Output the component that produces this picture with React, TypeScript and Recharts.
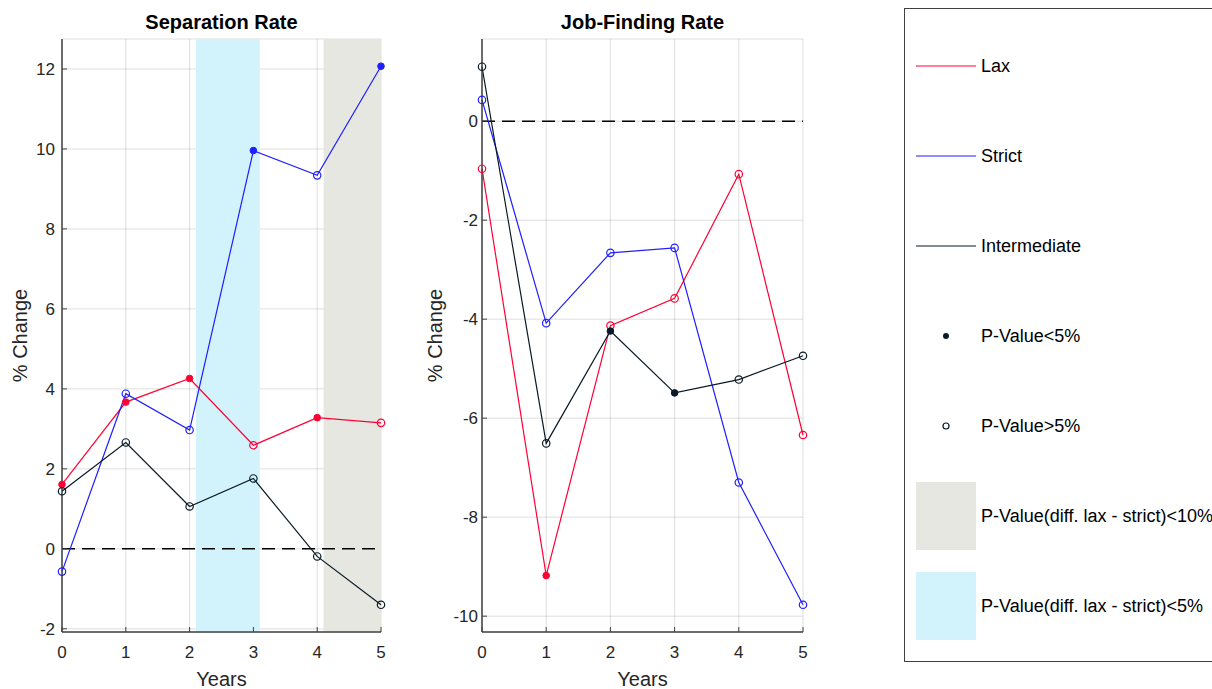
import {
  LineChart,
  Line,
  XAxis,
  YAxis,
  CartesianGrid,
  ReferenceLine,
  ReferenceArea,
  Label,
} from "recharts";

const years = [0, 1, 2, 3, 4, 5];

// separation rate, % change
const sepLax = [1.61, 3.67, 4.26, 2.59, 3.28, 3.15];
const sepStrict = [-0.57, 3.88, 2.97, 9.96, 9.34, 12.07];
const sepInter = [1.44, 2.66, 1.06, 1.76, -0.19, -1.4];
const sepLaxSig = [true, true, true, false, true, false];
const sepStrictSig = [false, false, false, true, false, true];
const sepInterSig = [false, false, false, false, false, false];
const sepTicks = [-2, 0, 2, 4, 6, 8, 10, 12];
const sepCyan = [[2.1, 3.1]];
const sepGray = [[4.1, 5]];

// job-finding rate, % change
const jobLax = [-0.96, -9.18, -4.13, -3.58, -1.07, -6.34];
const jobStrict = [0.43, -4.08, -2.66, -2.56, -7.3, -9.77];
const jobInter = [1.1, -6.51, -4.24, -5.49, -5.22, -4.74];
const jobLaxSig = [false, true, false, false, false, false];
const jobStrictSig = [false, false, false, false, false, false];
const jobInterSig = [false, false, true, true, false, false];
const jobTicks = [-10, -8, -6, -4, -2, 0];

const RED = "#ff0033";
const BLUE = "#1f1fff";
const DARK = "#0b1a26";
const CYAN = "#d2f3fb";
const GRAY = "#e6e7e1";
const FONT = "'Liberation Sans', Arial, sans-serif";

const makeDot = (color: string, sig: boolean[]) => (props: any) => {
  const { cx, cy, index } = props;
  if (cx == null || cy == null) return <g key={`e${index}`} />;
  return sig[index] ? (
    <circle key={`d${index}`} cx={cx} cy={cy} r={3.3} fill={color} stroke={color} strokeWidth={1} />
  ) : (
    <circle key={`d${index}`} cx={cx} cy={cy} r={3.7} fill="none" stroke={color} strokeWidth={1.2} />
  );
};

interface PanelProps {
  title: string;
  left: number;
  width: number;
  yAxisWidth: number;
  marginRight: number;
  yDomain: [number, number];
  yTicks: number[];
  yTickMargin: number;
  labelDx: number;
  lax: number[];
  strict: number[];
  inter: number[];
  laxSig: boolean[];
  strictSig: boolean[];
  interSig: boolean[];
  cyan: number[][];
  gray: number[][];
}

function Panel(p: PanelProps) {
  const data = years.map((y, i) => ({
    year: y,
    lax: p.lax[i],
    strict: p.strict[i],
    inter: p.inter[i],
  }));
  const plotLeft = 12 + p.yAxisWidth;
  const plotRight = p.width - p.marginRight;
  const tick = { fill: "#262626", fontSize: 17, fontFamily: FONT };
  const axisLine = { stroke: "#404040", strokeWidth: 1.5 };
  const tickLine = { stroke: "#404040", strokeWidth: 1 };

  return (
    <div style={{ position: "absolute", left: p.left, top: 0, width: p.width, height: 689 }}>
      <div
        style={{
          position: "absolute",
          left: plotLeft,
          width: plotRight - plotLeft,
          top: 10,
          lineHeight: "24px",
          textAlign: "center",
          fontWeight: "bold",
          fontSize: 20,
          fontFamily: FONT,
          color: "#000",
        }}
      >
        {p.title}
      </div>
      <LineChart
        width={p.width}
        height={689}
        data={data}
        margin={{ top: 39, right: p.marginRight, bottom: 0, left: 12 }}
      >
        {p.cyan.map(([a, b], i) => (
          <ReferenceArea key={`c${i}`} x1={a} x2={b} fill={CYAN} fillOpacity={1} stroke="none" />
        ))}
        {p.gray.map(([a, b], i) => (
          <ReferenceArea key={`g${i}`} x1={a} x2={b} fill={GRAY} fillOpacity={1} stroke="none" />
        ))}
        <CartesianGrid stroke="#262626" strokeOpacity={0.15} strokeWidth={1} />
        <XAxis
          type="number"
          dataKey="year"
          domain={[0, 5]}
          ticks={years}
          height={57}
          tick={tick}
          tickLine={tickLine}
          tickSize={-5}
          tickMargin={19}
          axisLine={axisLine}
        >
          <Label
            value="Years"
            position="insideBottom"
            offset={3}
            style={{ fontSize: 20, fill: "#262626", fontFamily: FONT }}
          />
        </XAxis>
        <YAxis
          type="number"
          domain={p.yDomain}
          ticks={p.yTicks}
          width={p.yAxisWidth}
          tick={tick}
          tickLine={tickLine}
          tickSize={-5}
          tickMargin={p.yTickMargin}
          axisLine={axisLine}
          allowDataOverflow
        >
          <Label
            value="% Change"
            angle={-90}
            position="center"
            dx={p.labelDx}
            style={{ fontSize: 20, fill: "#262626", fontFamily: FONT, textAnchor: "middle" }}
          />
        </YAxis>
        <ReferenceLine y={0} stroke="#000" strokeWidth={1.5} strokeDasharray="13 7" />
        <Line
          dataKey="lax"
          stroke={RED}
          strokeWidth={1.2}
          dot={makeDot(RED, p.laxSig)}
          isAnimationActive={false}
        />
        <Line
          dataKey="strict"
          stroke={BLUE}
          strokeWidth={1.2}
          dot={makeDot(BLUE, p.strictSig)}
          isAnimationActive={false}
        />
        <Line
          dataKey="inter"
          stroke={DARK}
          strokeWidth={1.2}
          dot={makeDot(DARK, p.interSig)}
          isAnimationActive={false}
        />
      </LineChart>
    </div>
  );
}

const legendItems = [
  { label: "Lax", kind: "line", color: RED, y: 66 },
  { label: "Strict", kind: "line", color: BLUE, y: 156 },
  { label: "Intermediate", kind: "line", color: DARK, y: 246 },
  { label: "P-Value<5%", kind: "filled", color: DARK, y: 336 },
  { label: "P-Value>5%", kind: "open", color: DARK, y: 426 },
  { label: "P-Value(diff. lax - strict)<10%", kind: "box", color: GRAY, y: 516 },
  { label: "P-Value(diff. lax - strict)<5%", kind: "box", color: CYAN, y: 606 },
];

function LegendBox() {
  return (
    <div
      style={{
        position: "absolute",
        left: 904,
        top: 8,
        width: 360,
        height: 654,
        border: "1px solid #404040",
        boxSizing: "border-box",
        fontFamily: FONT,
        fontSize: 18,
        color: "#000",
      }}
    >
      <svg width={80} height={652} style={{ position: "absolute", left: 0, top: 0 }}>
        {legendItems.map((it) => {
          const cy = it.y - 9;
          if (it.kind === "line")
            return <line key={it.label} x1={11} x2={71} y1={cy} y2={cy} stroke={it.color} strokeWidth={1.2} />;
          if (it.kind === "filled")
            return <circle key={it.label} cx={41} cy={cy} r={3} fill={it.color} />;
          if (it.kind === "open")
            return <circle key={it.label} cx={41} cy={cy} r={3} fill="none" stroke={it.color} strokeWidth={1.2} />;
          return <rect key={it.label} x={11} y={cy - 34} width={60} height={68} fill={it.color} />;
        })}
      </svg>
      {legendItems.map((it) => (
        <div
          key={it.label}
          style={{
            position: "absolute",
            left: 76,
            top: it.y - 9 - 11,
            lineHeight: "22px",
            whiteSpace: "nowrap",
          }}
        >
          {it.label}
        </div>
      ))}
    </div>
  );
}

export default function App() {
  return (
    <div
      style={{
        position: "absolute",
        left: 0,
        top: 0,
        width: 1212,
        height: 689,
        overflow: "hidden",
        background: "#fff",
      }}
    >
      <Panel
        title="Separation Rate"
        left={0}
        width={400}
        yAxisWidth={50}
        marginRight={19}
        yDomain={[-2.08, 12.75]}
        yTicks={sepTicks}
        yTickMargin={12}
        labelDx={-17}
        lax={sepLax}
        strict={sepStrict}
        inter={sepInter}
        laxSig={sepLaxSig}
        strictSig={sepStrictSig}
        interSig={sepInterSig}
        cyan={sepCyan}
        gray={sepGray}
      />
      <Panel
        title="Job-Finding Rate"
        left={400}
        width={420}
        yAxisWidth={70}
        marginRight={17}
        yDomain={[-10.32, 1.66]}
        yTicks={jobTicks}
        yTickMargin={9}
        labelDx={-12}
        lax={jobLax}
        strict={jobStrict}
        inter={jobInter}
        laxSig={jobLaxSig}
        strictSig={jobStrictSig}
        interSig={jobInterSig}
        cyan={[]}
        gray={[]}
      />
      <LegendBox />
    </div>
  );
}
